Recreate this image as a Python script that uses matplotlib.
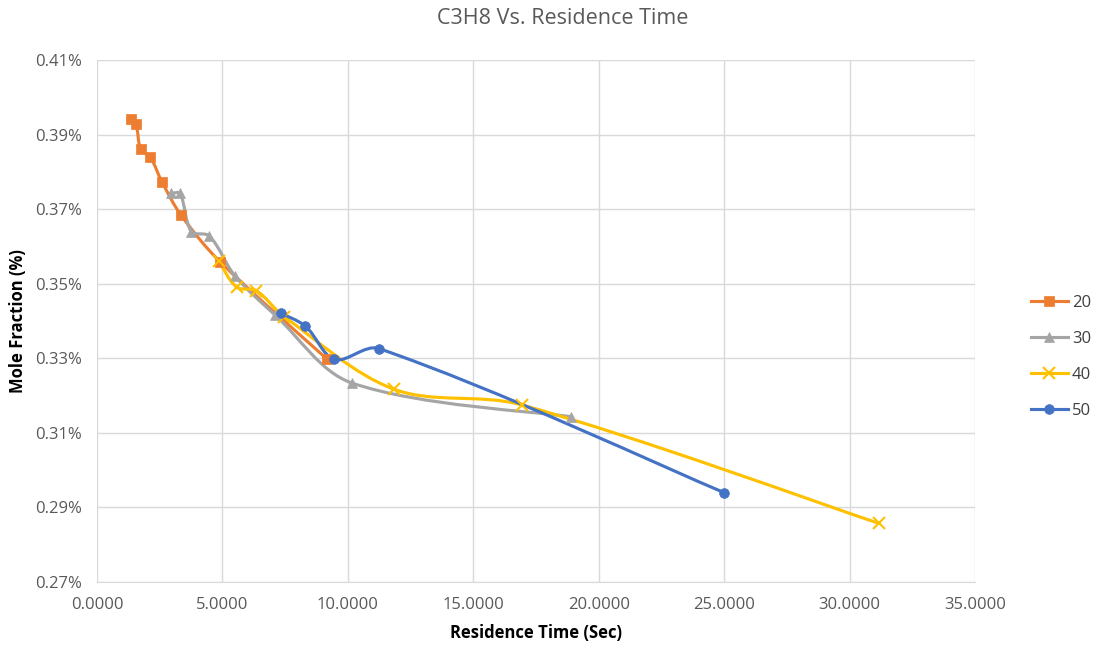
import matplotlib
matplotlib.use("Agg")
import matplotlib.pyplot as plt
import numpy as np
from matplotlib.path import Path
from matplotlib.patches import PathPatch
from matplotlib.lines import Line2D
from matplotlib.ticker import FuncFormatter

plt.rcParams['font.family'] = ['Open Sans', 'DejaVu Sans']

# residence time (sec) vs mole fraction (%)
x20 = [1.343, 1.555, 1.742, 2.113, 2.591, 3.348, 4.903, 9.168]
y20 = [0.3941, 0.3928, 0.3860, 0.3841, 0.3773, 0.3684, 0.3559, 0.3298]

x30 = [2.95, 3.31, 3.76, 4.48, 5.50, 7.10, 10.15, 18.91]
y30 = [0.3742, 0.3742, 0.3640, 0.3628, 0.3521, 0.3416, 0.3234, 0.3143]

x40 = [4.863, 5.561, 6.358, 7.454, 11.84, 16.93, 31.18]
y40 = [0.3560, 0.3491, 0.3481, 0.3412, 0.3217, 0.3175, 0.2857]

x50 = [7.323, 8.311, 9.467, 11.24, 24.99]
y50 = [0.3421, 0.3386, 0.3297, 0.3326, 0.2940]

labels = ['20', '30', '40', '50']
colors = ['#ED7D31', '#A5A5A5', '#FFC000', '#4472C4']
markers = ['s', '^', 'x', 'o']
msizes = [7, 7.5, 8.5, 7]

fig = plt.figure(figsize=(11.02, 6.48), dpi=100)
ax = fig.add_axes([97 / 1102, 1 - 582 / 648, (975 - 97) / 1102, (582 - 60) / 648])
ax.set_xlim(0, 35)
ax.set_ylim(0.27, 0.41)


def smooth_path(xs, ys):
    # smoothed line: bezier segments built in screen space,
    # tangent handles weighted by segment length so nothing loops
    pts = ax.transData.transform(np.column_stack([xs, ys]))
    n = len(pts)
    d = [np.hypot(*(pts[i + 1] - pts[i])) for i in range(n - 1)]
    tang = []
    for i in range(n):
        a = pts[max(i - 1, 0)]
        b = pts[min(i + 1, n - 1)]
        tang.append(b - a)
    verts = [pts[0]]
    codes = [Path.MOVETO]
    for i in range(n - 1):
        din = d[i - 1] if i > 0 else d[i]
        dout = d[i + 1] if i < n - 2 else d[i]
        c1 = pts[i] + tang[i] * d[i] / (din + d[i]) / 3
        c2 = pts[i + 1] - tang[i + 1] * d[i] / (d[i] + dout) / 3
        verts += [c1, c2, pts[i + 1]]
        codes += [Path.CURVE4] * 3
    verts = ax.transData.inverted().transform(np.array(verts))
    return Path(verts, codes)


series = [(x20, y20), (x30, y30), (x40, y40), (x50, y50)]
handles = []
for (xs, ys), lab, c, m, ms in zip(series, labels, colors, markers, msizes):
    ax.add_patch(PathPatch(smooth_path(xs, ys), facecolor='none', edgecolor=c,
                           lw=2.25, capstyle='round', joinstyle='round', zorder=3))
    ax.plot(xs, ys, linestyle='none', marker=m, color=c, markersize=ms,
            markeredgewidth=1.5 if m == 'x' else 0.5, zorder=4)
    handles.append(Line2D([], [], color=c, lw=2.25, marker=m, markersize=ms,
                          markeredgewidth=1.5 if m == 'x' else 0.5))

ax.set_xticks(np.arange(0, 35.1, 5))
ax.set_yticks(np.arange(0.27, 0.4101, 0.02))
ax.xaxis.set_major_formatter(FuncFormatter(lambda v, p: f'{v:.4f}'))
ax.yaxis.set_major_formatter(FuncFormatter(lambda v, p: f'{v:.2f}%'))
ax.grid(True, color='#D9D9D9', lw=1)
ax.set_axisbelow(True)
for s in ['top', 'right', 'left']:
    ax.spines[s].set_visible(False)
ax.spines['bottom'].set_color('#D9D9D9')
ax.tick_params(length=0, labelsize=12, colors='#595959')
ax.tick_params(axis='x', pad=11)
ax.tick_params(axis='y', pad=11)

ax.set_xlabel('Residence Time (Sec)', fontsize=12, fontweight='bold', va='center')
ax.set_ylabel('Mole Fraction (%)', fontsize=12, fontweight='bold', va='center')
ax.xaxis.set_label_coords(0.5, (582 - 633) / 522)
ax.yaxis.set_label_coords((18 - 97) / 878, 0.5)
fig.text(563 / 1102, 1 - 19 / 648, 'C3H8 Vs. Residence Time', ha='center', va='center',
         fontsize=15.5, color='#595959')

fig.legend(handles, labels, loc='center left', bbox_to_anchor=(1031 / 1102, 1 - 357 / 648),
           frameon=False, fontsize=12, handlelength=2.2, labelspacing=1.2,
           borderaxespad=0, borderpad=0, handletextpad=0.25, labelcolor='#404040')

fig.savefig('out.png', dpi=100)
